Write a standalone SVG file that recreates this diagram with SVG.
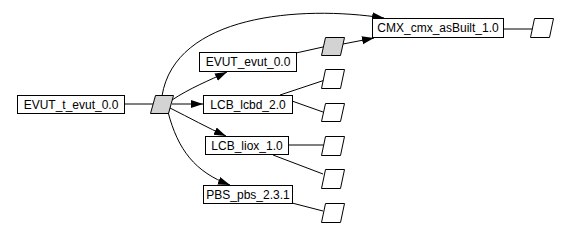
<svg xmlns="http://www.w3.org/2000/svg" width="572" height="228" viewBox="0 0 572 228">
<style>
.box{fill:#fff;stroke:#000;stroke-width:1}
.gray{fill:#d3d3d3;stroke:#000;stroke-width:1}
.wp{fill:#fff;stroke:#000;stroke-width:1}
.lbl{font-family:"Liberation Sans",Arial,sans-serif;font-size:12px;fill:#000;text-anchor:middle}
.e{fill:none;stroke:#000;stroke-width:1}
.ea{fill:none;stroke:#000;stroke-width:1;marker-end:url(#ah)}
</style>
<defs>
<marker id="ah" markerUnits="userSpaceOnUse" markerWidth="13" markerHeight="9" refX="12" refY="4" orient="auto">
<path d="M0,0 L12,4 L0,8 z" fill="#000"/>
</marker>
</defs>
<rect width="572" height="228" fill="#fff"/>
<g id="edges">
<path class="e" d="M124,104 L153,104"/>
<path class="ea" d="M162,96 C175,15 300,5 384,18"/>
<path class="ea" d="M172,100 C190,88 210,80 227,72"/>
<path class="ea" d="M172,104 L203,104"/>
<path class="ea" d="M170,108 C190,118 208,128 226,136"/>
<path class="ea" d="M168,112 C178,150 195,172 230,185"/>
<path class="e" d="M296,53 L323,47"/>
<path class="ea" d="M343,44 L374,38"/>
<path class="e" d="M503,29 L533,29"/>
<path class="e" d="M280,95 L325,80"/>
<path class="e" d="M292,101 L323,112"/>
<path class="e" d="M288,145 L324,145"/>
<path class="e" d="M273,155 L323,174"/>
<path class="e" d="M292,203 L323,211"/>
</g>
<g id="n_evut_t">
<rect class="box" x="17.5" y="95.5" width="107" height="18"/>
<text class="lbl" x="71" y="109">EVUT_t_evut_0.0</text>
</g>
<g id="n_gray1">
<polygon class="gray" points="155.5,95.5 173.5,95.5 168.5,113.5 150.5,113.5"/>
</g>
<g id="n_evut">
<rect class="box" x="199.5" y="52.5" width="97" height="19"/>
<text class="lbl" x="248" y="66">EVUT_evut_0.0</text>
</g>
<g id="n_gray2">
<polygon class="gray" points="325.5,37.5 344.5,37.5 340.5,55.5 321.5,55.5"/>
</g>
<g id="n_cmx">
<rect class="box" x="372.5" y="18.5" width="131" height="19"/>
<text class="lbl" x="438" y="32">CMX_cmx_asBuilt_1.0</text>
</g>
<g id="n_cmx_out">
<polygon class="wp" points="534.5,18.5 553.5,18.5 549.5,37.5 530.5,37.5"/>
</g>
<g id="n_lcbd">
<rect class="box" x="203.5" y="95.5" width="89" height="18"/>
<text class="lbl" x="248" y="109">LCB_lcbd_2.0</text>
</g>
<g id="n_lcbd_o1">
<polygon class="wp" points="325.5,69.5 344.5,69.5 340.5,88.5 321.5,88.5"/>
</g>
<g id="n_lcbd_o2">
<polygon class="wp" points="325.5,103.5 344.5,103.5 340.5,121.5 321.5,121.5"/>
</g>
<g id="n_liox">
<rect class="box" x="205.5" y="136.5" width="83" height="18"/>
<text class="lbl" x="247" y="150">LCB_liox_1.0</text>
</g>
<g id="n_liox_o1">
<polygon class="wp" points="325.5,136.5 344.5,136.5 340.5,155.5 321.5,155.5"/>
</g>
<g id="n_liox_o2">
<polygon class="wp" points="325.5,169.5 344.5,169.5 340.5,188.5 321.5,188.5"/>
</g>
<g id="n_pbs">
<rect class="box" x="203.5" y="185.5" width="89" height="18"/>
<text class="lbl" x="248" y="199">PBS_pbs_2.3.1</text>
</g>
<g id="n_pbs_o">
<polygon class="wp" points="325.5,203.5 344.5,203.5 340.5,222.5 321.5,222.5"/>
</g>
</svg>
